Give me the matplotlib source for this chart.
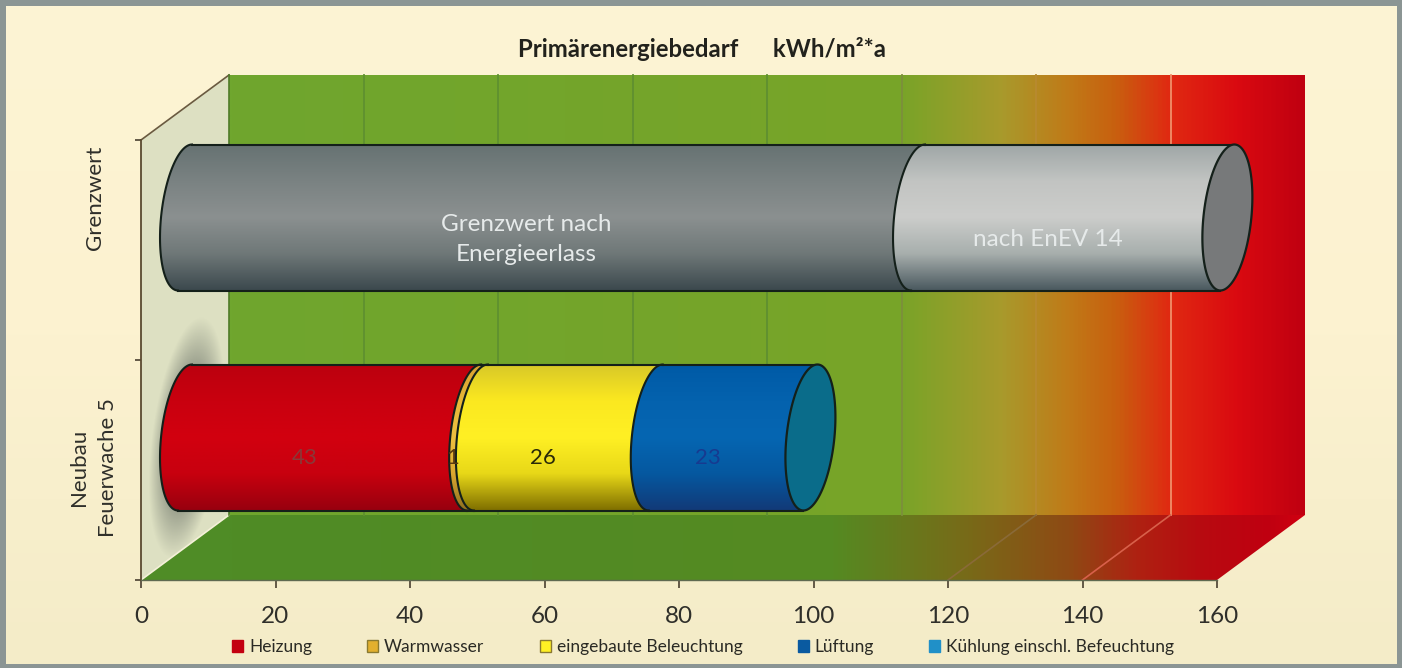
import numpy as np
import matplotlib
matplotlib.use("Agg")
import matplotlib.pyplot as plt
from matplotlib.colors import LinearSegmentedColormap as LSC
from matplotlib.patches import Patch, Polygon, Rectangle

plt.rcParams['font.family'] = ['Lato', 'DejaVu Sans']

# ---- data ----
categories = ["Neubau\nFeuerwache 5", "Grenzwert"]
series_names = ["Heizung", "Warmwasser", "eingebaute Beleuchtung", "Lüftung",
                "Kühlung einschl. Befeuchtung"]
neubau_values = [43, 1, 26, 23, 0]
grenz_names = ["Grenzwert nach\nEnergieerlass", "nach EnEV 14"]
grenz_values = [109, 46]
x_ticks = [0, 20, 40, 60, 80, 100, 120, 140, 160]
title = "Primärenergiebedarf      kWh/m²*a"

# ---- style ----
legend_colors = ["#c30010", "#e2b02e", "#fff024", "#0a5aa0", "#2090c8"]
neubau_grad = [
    ["#bb000e", "#c9000f", "#d2000f", "#c8000f", "#98000e"],
    ["#d8a030", "#e8b838", "#eec040", "#dca830", "#907020"],
    ["#d8c828", "#fbe820", "#fff024", "#e8d818", "#807000"],
    ["#005aa6", "#0462ae", "#0666b2", "#0558a0", "#123a78"],
    ["#2090c8"] * 5,
]
grenz_grad = [
    ["#667272", "#7a8282", "#8b9090", "#6f7878", "#3c494e"],
    ["#9ea6a6", "#c2c4c2", "#cccdcb", "#a8afad", "#4b5a60"],
]
neubau_cap, grenz_cap = "#0a6c8a", "#77797a"
neubau_lab = ["#8a3838", "#5a3a10", "#2a2a08", "#173a90", "#000000"]
grenz_lab = "#e6eaea"
wall_stops = [(0, "#6fa62e"), (100, "#78a428"), (115, "#a89a2c"), (125, "#c07a18"),
              (132, "#c8600f"), (140, "#e02a12"), (150, "#da0a10"), (160, "#c00010")]
floor_stops = [(0, "#4f8c26"), (90, "#558a22"), (110, "#786a18"), (125, "#8e4a14"),
               (135, "#ae2212"), (145, "#b80a10"), (155, "#c00010"), (160, "#d00010")]

L, R, T, B = 141, 1217, 140, 580
W, H = 1402, 668
UX = (R - L) / 160.0          # px per value
UY = (B - T) / 2.0            # px per category
DX, DY = 88 / UX, 65 / UY     # full depth offset in data units
BAR_D = 0.5
A, S, RY = 24 / UX, 7 / UX, 73 / UY

fig = plt.figure(figsize=(W / 100, H / 100), dpi=100, facecolor="#8b9594")

# background
bg = fig.add_axes([0, 0, 1, 1], zorder=0)
bg.imshow(np.linspace(0, 1, 256)[:, None],
          cmap=LSC.from_list("bg", ["#fdf4d4", "#fcf2d0", "#f4ecc8"]),
          extent=(6, 1397, 664, 6), aspect='auto')
bg.set_xlim(0, W)
bg.set_ylim(H, 0)
bg.axis('off')

ax = fig.add_axes([L / W, 1 - B / H, (R - L) / W, (B - T) / H], zorder=1)
ax.patch.set_alpha(0)


def stops_cmap(stops, vmax=160.0):
    return LSC.from_list("c", [(p / vmax, c) for p, c in stops])


def clipped_image(arr, cmap, extent, poly, z):
    im = ax.imshow(arr, cmap=cmap, extent=extent, aspect='auto', zorder=z,
                   vmin=0, vmax=1, origin='lower')
    patch = Polygon(poly, closed=True, transform=ax.transData, fc='none', ec='none')
    im.set_clip_box(fig.bbox)
    im.set_clip_path(patch)
    return im


# back wall
wx0, wx1 = DX, 160 + DX
wy0, wy1 = DY, 2 + DY
clipped_image(np.linspace(0, 1, 512)[None, :], stops_cmap(wall_stops),
              (wx0, wx1, wy0, wy1),
              [(wx0, wy0), (wx1, wy0), (wx1, wy1), (wx0, wy1)], 1)

# floor
clipped_image(np.linspace(0, 1, 512)[None, :], stops_cmap(floor_stops),
              (wx0, wx1, 0, DY),
              [(0, 0), (160, 0), (160 + DX, DY), (DX, DY)], 1.1)
clipped_image(np.ones((1, 2)) * 0, stops_cmap(floor_stops),
              (0, wx0, 0, DY),
              [(0, 0), (DX, 0), (DX, DY)], 1.1)

# left wall
ax.add_patch(Polygon([(0, 0), (DX, DY), (DX, wy1), (0, 2)], closed=True,
                     fc="#dde0c2", ec='none', zorder=1.2, clip_on=False))
ax.plot([0, DX], [2, wy1], color="#6a5a40", lw=1.2, zorder=1.3, clip_on=False)
ax.plot([0, DX], [0, DY], color="#f4f0d8", lw=1.2, zorder=1.3, clip_on=False)
ax.plot([DX, DX], [DY, wy1], color="#4f7a28", lw=1.2, zorder=1.3, clip_on=False)

# shadow behind the lower bar
sx = np.linspace(0, DX, 120)
sy = np.linspace(-0.1, 1.2, 200)
XX, YY = np.meshgrid(sx, sy)
dist = np.sqrt(((XX - 6.8 - (YY - 0.648) * 4.0) / 4.2) ** 2 + ((YY - 0.648) / 0.44) ** 2)
shadow = np.zeros(XX.shape + (4,))
shadow[..., :3] = (0.30, 0.33, 0.31)
shadow[..., 3] = 0.9 * np.clip(1.25 - dist, 0, 1)
sim = ax.imshow(shadow, extent=(0, DX, -0.1, 1.2), aspect='auto', origin='lower', zorder=1.25)
sim.set_clip_box(fig.bbox)
sim.set_clip_path(Polygon([(0, 0), (DX, DY), (DX, wy1), (0, 2)], closed=True,
                          transform=ax.transData, fc='none', ec='none'))

# grid lines
wall_line = {20: "#5f9030", 40: "#5f9030", 60: "#5f9030", 80: "#5f9030", 100: "#7c8f3c",
             120: "#b88a30", 140: "#f0906a"}
floor_line = {120: "#8a6a38", 140: "#d8604a"}
for v, c in wall_line.items():
    ax.plot([v + DX, v + DX], [DY, wy1], color=c, lw=1.3, zorder=1.4, clip_on=False)
for v, c in floor_line.items():
    ax.plot([v, v + DX], [0, DY], color=c, lw=1.2, zorder=1.4, clip_on=False)


# ---- cylinders ----
def half_arc(v, yc, n=60):
    t = np.linspace(np.pi / 2, 3 * np.pi / 2, n)
    return v + BAR_D * DX + A * np.cos(t) + S * np.sin(t), yc + RY * np.sin(t)


def full_ellipse(v, yc, n=120):
    t = np.linspace(0, 2 * np.pi, n)
    return v + BAR_D * DX + A * np.cos(t) + S * np.sin(t), yc + RY * np.sin(t)


EDGE = "#14201a"


def cylinder(pos, values, grads, cap, z):
    yc = pos + BAR_D * DY
    start = 0.0
    values = [v for v in values if v > 0]
    for i, val in enumerate(values):
        end = start + val
        x1, y1 = half_arc(start, yc)
        x2, y2 = half_arc(end, yc)
        poly = np.r_[np.c_[x1, y1], np.c_[x2, y2][::-1]]
        cmap = LSC.from_list("g", grads[i][::-1])
        clipped_image(np.linspace(0, 1, 256)[:, None], cmap,
                      (x1.min() - 1, x2.max() + 8, yc - RY, yc + RY), poly, z + i * 0.01)
        ax.plot(x1, y1, color=EDGE, lw=1.5, zorder=z + 0.5, clip_on=False)
        ax.plot([x1[0], x2[0]], [y1[0], y2[0]], color=EDGE, lw=1.5, zorder=z + 0.5, clip_on=False)
        ax.plot([x1[-1], x2[-1]], [y1[-1], y2[-1]], color=EDGE, lw=1.5, zorder=z + 0.5, clip_on=False)
        start = end
    ex, ey = full_ellipse(start, yc)
    ax.add_patch(Polygon(np.c_[ex, ey], closed=True, fc=cap, ec=EDGE, lw=1.6,
                         zorder=z + 0.6, clip_on=False))


cylinder(0.5, neubau_values, neubau_grad, neubau_cap, 3)
cylinder(1.5, grenz_values, grenz_grad, grenz_cap, 2)

# value labels
LAB_X = BAR_D * DX - 25 / UX


def seg_labels(pos, values, labels, colors, size, dy_px):
    cum = 0.0
    for v, lab, c in zip(values, labels, colors):
        if v > 0:
            ax.text(cum + v / 2 + LAB_X, pos + BAR_D * DY - dy_px / UY, lab, color=c, ha='center',
                    va='center', fontsize=size, zorder=6, linespacing=1.5, clip_on=False)
        cum += v


seg_labels(0.5, neubau_values, [str(v) for v in neubau_values], neubau_lab, 16, 20)
seg_labels(1.5, grenz_values, grenz_names, [grenz_lab, grenz_lab], 17.5, 22)

# ---- axes ----
ax.set_xlim(0, 160)
ax.set_ylim(0, 2)
for s in ('top', 'right'):
    ax.spines[s].set_visible(False)
ax.spines['left'].set_color("#5a4a30")
ax.spines['left'].set_linewidth(1.3)
ax.spines['left'].set_zorder(2)
ax.spines['bottom'].set_color("#5f6a50")
ax.spines['bottom'].set_linewidth(1.0)
ax.set_xticks(x_ticks)
ax.tick_params(axis='x', length=6, width=1.2, color="#4a4030", labelsize=17.5,
               labelcolor="#2f2f2a", pad=13)
ax.set_yticks([0, 1, 2])
ax.set_yticklabels([])
ax.tick_params(axis='y', which='major', length=4, width=1.2, color="#4a4030")
ax.set_yticks([0.51, 1.735], labels=categories, minor=True)
ax.tick_params(axis='y', which='minor', length=0, labelsize=16, labelcolor="#2f2f2a", pad=34)
for lab in ax.get_yticklabels(minor=True):
    lab.set_rotation(90)
    lab.set_va('center')
    lab.set_ha('center')
    lab.set_multialignment('center')
    lab.set_linespacing(1.55)
ax.yaxis.get_minor_ticks()[1].set_pad(33)

# ---- title and legend ----
fig.text(702 / W, 1 - 49 / H, title, ha='center', va='center', fontsize=17.2,
         fontweight='bold', color="#22221c", zorder=5)
handles = [Patch(fc=c, ec="#8a7a30" if i in (1, 2) else c, label=n)
           for i, (c, n) in enumerate(zip(legend_colors, series_names))]
fig.legend(handles=handles, loc='center', bbox_to_anchor=(703 / W, 1 - 647 / H), ncol=5,
           frameon=False, fontsize=12.5, handlelength=0.65, handleheight=0.75,
           handletextpad=0.33, columnspacing=3.18, labelcolor="#2a2a24",
           borderpad=0, borderaxespad=0)

fig.savefig("out.png", dpi=100, facecolor=fig.get_facecolor())
